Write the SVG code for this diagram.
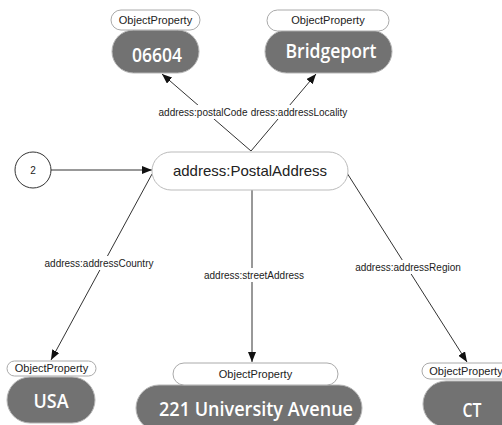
<svg xmlns="http://www.w3.org/2000/svg" width="502" height="425" viewBox="0 0 502 425">
  <defs>
    <marker id="arrow" markerUnits="userSpaceOnUse" markerWidth="11" markerHeight="8" refX="10" refY="4" orient="auto">
      <path d="M0,0 L10,4 L0,8 z" fill="#111"/>
    </marker>
    <style>
      .edge { stroke: #333; stroke-width: 1; fill: none; marker-end: url(#arrow); }
      .tag { fill: #fff; stroke: #aaa; stroke-width: 1; }
      .tag-text { font-family: "Liberation Sans", Arial, sans-serif; font-size: 11px; fill: #222; text-anchor: middle; }
      .val { fill: #727272; stroke: #b5b5b5; stroke-width: 1; }
      .val-text { font-family: "Open Sans", "Noto Sans", sans-serif; font-weight: 600; font-size: 20px; fill: #fff; text-anchor: middle; }
      .lbl-bg { fill: #fff; }
      .lbl { font-family: "Liberation Sans", Arial, sans-serif; font-size: 10px; fill: #222; text-anchor: middle; }
      .main { fill: #fff; stroke: #bbb; stroke-width: 1; }
      .main-text { font-family: "Liberation Sans", Arial, sans-serif; font-size: 15px; fill: #222; text-anchor: middle; }
    </style>
  </defs>
  <rect width="502" height="425" fill="#fff"/>

  <!-- connectors -->
  <g id="connectors">
    <line class="edge" x1="51" y1="170" x2="152" y2="170"/>
    <line class="edge" x1="251" y1="151" x2="162" y2="74"/>
    <line class="edge" x1="251" y1="151" x2="316" y2="74"/>
    <line class="edge" x1="152" y1="174" x2="51" y2="360"/>
    <line class="edge" x1="252" y1="190" x2="252" y2="362"/>
    <line class="edge" x1="347" y1="173" x2="467" y2="362"/>

    <rect class="lbl-bg" x="248" y="105" width="104" height="14"/>
    <text class="lbl" x="299" y="116">dress:addressLocality</text>
    <rect class="lbl-bg" x="156" y="105" width="92" height="14"/>
    <text class="lbl" x="203" y="116">address:postalCode</text>

    <rect class="lbl-bg" x="42" y="256" width="114" height="14"/>
    <text class="lbl" x="99" y="267">address:addressCountry</text>
    <rect class="lbl-bg" x="202" y="268" width="104" height="14"/>
    <text class="lbl" x="254" y="279">address:streetAddress</text>
    <rect class="lbl-bg" x="355" y="260" width="106" height="14"/>
    <text class="lbl" x="408" y="271">address:addressRegion</text>
  </g>

  <!-- start marker -->
  <g id="node-2">
    <circle cx="33" cy="170" r="18" fill="#fff" stroke="#333" stroke-width="1"/>
    <text x="33" y="174" font-family="Liberation Sans, Arial, sans-serif" font-size="10" fill="#222" text-anchor="middle">2</text>
  </g>

  <!-- central class -->
  <g id="node-postal-address">
    <rect class="main" x="152" y="152" width="196" height="38" rx="19"/>
    <text class="main-text" x="250" y="176">address:PostalAddress</text>
  </g>

  <!-- postal code -->
  <g id="node-postal-code">
    <rect class="val" x="112" y="30" width="87" height="43" rx="21.5"/>
    <rect class="tag" x="111" y="10" width="89" height="20" rx="10"/>
    <text class="tag-text" x="155.5" y="24">ObjectProperty</text>
    <text class="val-text" x="157" y="62" textLength="50" lengthAdjust="spacingAndGlyphs">06604</text>
  </g>

  <!-- locality -->
  <g id="node-locality">
    <rect class="val" x="265" y="30" width="127" height="43" rx="21.5"/>
    <rect class="tag" x="267" y="10" width="122" height="21" rx="10.5"/>
    <text class="tag-text" x="328" y="24">ObjectProperty</text>
    <text class="val-text" x="331" y="58" textLength="91" lengthAdjust="spacingAndGlyphs">Bridgeport</text>
  </g>

  <!-- country -->
  <g id="node-country">
    <rect class="val" x="7" y="377" width="88" height="46" rx="23"/>
    <rect class="tag" x="7" y="361" width="89" height="15" rx="7.5"/>
    <text class="tag-text" x="51.5" y="372">ObjectProperty</text>
    <text class="val-text" x="51" y="408" textLength="35" lengthAdjust="spacingAndGlyphs">USA</text>
  </g>

  <!-- street -->
  <g id="node-street">
    <rect class="val" x="136" y="385" width="226" height="46" rx="23"/>
    <rect class="tag" x="173" y="363" width="165" height="22" rx="11"/>
    <text class="tag-text" x="255.5" y="378">ObjectProperty</text>
    <text class="val-text" x="256" y="416" textLength="194" lengthAdjust="spacingAndGlyphs">221 University Avenue</text>
  </g>

  <!-- region -->
  <g id="node-region">
    <rect class="val" x="423" y="381" width="100" height="46" rx="23"/>
    <rect class="tag" x="422" y="363" width="92" height="16" rx="8"/>
    <text class="tag-text" x="466" y="375">ObjectProperty</text>
    <text class="val-text" x="472" y="417" textLength="19" lengthAdjust="spacingAndGlyphs">CT</text>
  </g>
</svg>
